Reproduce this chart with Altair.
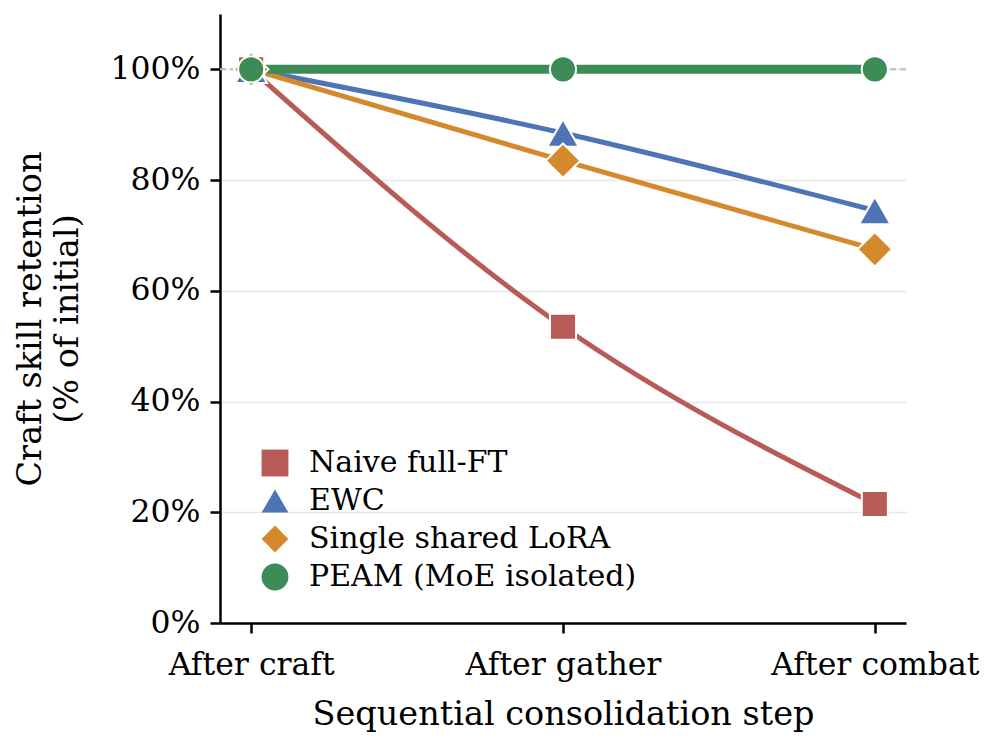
import altair as alt
import pandas as pd

steps = ["After craft", "After gather", "After combat"]
series = ["Naive full-FT", "EWC", "Single shared LoRA", "PEAM (MoE isolated)"]
naive = [100.0, 53.5, 21.5]
ewc = [100.0, 88.5, 74.5]
lora = [100.0, 83.5, 67.5]
peam = [100.0, 100.0, 100.0]
colors = ["#b85b57", "#4f74b6", "#d48a2c", "#3d8c58"]
shapes = ["square", "triangle-up", "diamond", "circle"]
marker_sizes = [680, 1000, 1200, 680]
line_widths = [5, 5, 5, 9]
y_ticks = [0, 20, 40, 60, 80, 100]

rows = []
for name, vals in zip(series, [naive, ewc, lora, peam]):
    for s, v in zip(steps, vals):
        rows.append({"step": s, "series": name, "value": v})
df = pd.DataFrame(rows)

FONT = "DejaVu Serif"

x_enc = alt.X("step:N", sort=steps, scale=alt.Scale(type="point", domain=steps, padding=0.1),
              axis=alt.Axis(title="Sequential consolidation step", labelAngle=0, grid=False,
                            labelLimit=0))
y_scale = alt.Scale(domain=[0, 110], nice=False, zero=True)
y_enc = alt.Y("value:Q", scale=y_scale,
              axis=alt.Axis(title=["Craft skill retention", "(% of initial)"], values=y_ticks,
                            labelExpr="datum.value + '%'", grid=True))

ref = alt.Chart(pd.DataFrame({"v": [100]})).mark_rule(
    color="#bbbbbb", strokeWidth=2, strokeDash=[6, 4]
).encode(y=alt.Y("v:Q", scale=y_scale))

layers = [ref]
for name, c, w in zip(series, colors, line_widths):
    layers.append(
        alt.Chart(df[df.series == name]).mark_line(
            color=c, strokeWidth=w, interpolate="monotone"
        ).encode(x=x_enc, y=y_enc)
    )

legend = alt.Legend(title=None, orient="none", legendX=40, legendY=434, symbolSize=720,
                    labelFontSize=30, labelFont=FONT, rowPadding=8, labelOffset=19,
                    symbolStrokeWidth=0, padding=0, labelColor="black", labelLimit=0)
color_enc = alt.Color("series:N", scale=alt.Scale(domain=series, range=colors), legend=legend)
shape_enc = alt.Shape("series:N", scale=alt.Scale(domain=series, range=shapes), legend=legend)
for name, sz in zip(series, marker_sizes):
    layers.append(
        alt.Chart(df[df.series == name]).mark_point(
            filled=True, stroke="white", strokeWidth=2, opacity=1, size=sz
        ).encode(x=x_enc, y=y_enc, color=color_enc, shape=shape_enc)
    )

chart = alt.layer(*layers).properties(
    width=686, height=609,
    autosize=alt.AutoSizeParams(type="none"),
    padding={"left": 220, "top": 14, "right": 91, "bottom": 123},
).configure_view(stroke=None).configure_axis(
    labelFont=FONT, titleFont=FONT, labelFontSize=31.5, titleFontSize=33.5,
    labelColor="black", titleColor="black", titleFontWeight="normal",
    domainColor="black", domainWidth=2.5, tickColor="black", tickWidth=2.5, tickSize=10,
    gridColor="#e6e6e6", gridWidth=1.5,
).configure_axisX(labelPadding=16, titlePadding=18).configure_axisY(
    labelPadding=10, titlePadding=25, titleLineHeight=37
)

chart.save("out.html", embed_options={"renderer": "svg", "actions": False})
